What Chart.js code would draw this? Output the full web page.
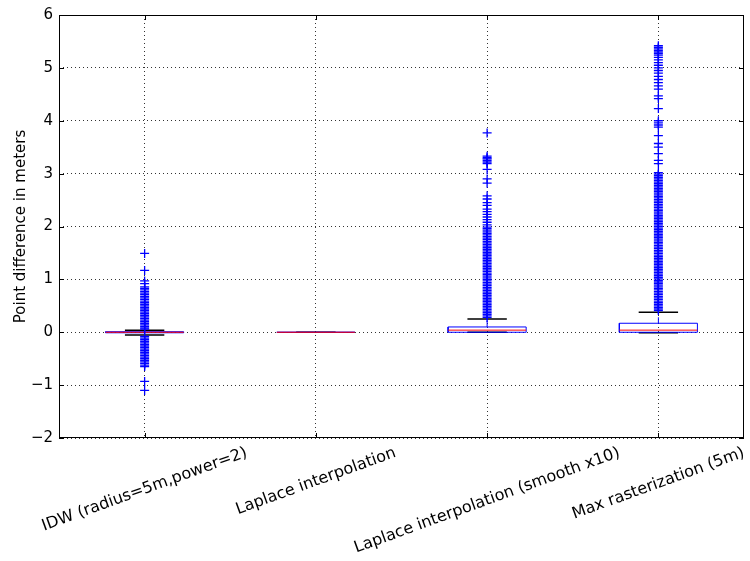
<!DOCTYPE html>
<html>
<head>
<meta charset="utf-8">
<script src="https://cdn.jsdelivr.net/npm/chart.js@4.4.0/dist/chart.umd.min.js"></script>
<style>
  html, body { margin: 0; padding: 0; background: #fff; }
</style>
</head>
<body>
<canvas id="chart" width="750" height="561"></canvas>
<script>
const categories = [
  'IDW (radius=5m,power=2)',
  'Laplace interpolation',
  'Laplace interpolation (smooth x10)',
  'Max rasterization (5m)'
];

// box statistics, one value per category
const q1 = [-0.01, 0, 0, 0];
const medians = [0, 0, 0.04, 0.04];
const q3 = [0.01, 0, 0.1, 0.17];
const whiskerLow = [-0.05, 0, 0, -0.01];
const whiskerHigh = [0.04, 0, 0.25, 0.38];

// fliers
const idwOutliers = [
  1.49, 1.17, 0.97, 0.92, 0.86, 0.83, 0.8, 0.77, 0.74, 0.71, 0.68, 0.65, 0.62,
  0.59, 0.56, 0.53, 0.5, 0.47, 0.44, 0.41, 0.38, 0.35, 0.32, 0.29, 0.26, 0.23,
  0.2, 0.17, 0.14, 0.11, 0.08, 0.06,
  -0.08, -0.11, -0.14, -0.17, -0.2, -0.23, -0.26, -0.29, -0.32, -0.35, -0.38,
  -0.41, -0.44, -0.47, -0.5, -0.53, -0.56, -0.59, -0.62, -0.65, -0.93, -1.1
];
const laplaceOutliers = [];
const smoothOutliers = [
  3.77, 3.33, 3.3, 3.28, 3.25, 3.22, 3.19, 3.08, 2.9, 2.82, 2.58, 2.52, 2.45,
  2.4, 2.33, 2.28, 2.23, 2.18, 2.13, 2.08, 2.03, 1.99, 1.96, 1.93, 1.9, 1.87,
  1.84, 1.81, 1.78, 1.75, 1.72, 1.69, 1.66, 1.63, 1.6, 1.57, 1.54, 1.51, 1.48,
  1.45, 1.42, 1.39, 1.36, 1.33, 1.3, 1.27, 1.24, 1.21, 1.18, 1.15, 1.12, 1.09,
  1.06, 1.03, 1.0, 0.97, 0.94, 0.91, 0.88, 0.85, 0.82, 0.79, 0.76, 0.73, 0.7,
  0.67, 0.64, 0.61, 0.58, 0.55, 0.52, 0.49, 0.46, 0.43, 0.4, 0.37, 0.34, 0.31,
  0.28
];
const maxOutliers = [
  5.42, 5.39, 5.36, 5.33, 5.3, 5.27, 5.24, 5.2, 5.15, 5.1, 5.05, 5.0, 4.95,
  4.9, 4.84, 4.78, 4.72, 4.66, 4.6, 4.47, 4.42, 4.23, 4.0, 3.96, 3.92, 3.88,
  3.72, 3.57, 3.5, 3.38, 3.25, 3.19, 3.02, 2.99, 2.96, 2.93, 2.9, 2.87, 2.84,
  2.81, 2.78, 2.75, 2.72, 2.69, 2.66, 2.63, 2.6, 2.57, 2.54, 2.51, 2.48, 2.45,
  2.42, 2.39, 2.36, 2.33, 2.3, 2.27, 2.24, 2.21, 2.18, 2.15, 2.12, 2.09, 2.06,
  2.03, 2.0, 1.97, 1.94, 1.91, 1.88, 1.85, 1.82, 1.79, 1.76, 1.73, 1.7, 1.67,
  1.64, 1.61, 1.58, 1.55, 1.52, 1.49, 1.46, 1.43, 1.4, 1.37, 1.34, 1.31, 1.28,
  1.25, 1.22, 1.19, 1.16, 1.13, 1.1, 1.07, 1.04, 1.01, 0.98, 0.95, 0.92, 0.89,
  0.86, 0.83, 0.8, 0.77, 0.74, 0.71, 0.68, 0.65, 0.62, 0.59, 0.56, 0.53, 0.5,
  0.47, 0.44, 0.41
];
const outliers = [idwOutliers, laplaceOutliers, smoothOutliers, maxOutliers];

const yTicks = [-2, -1, 0, 1, 2, 3, 4, 5, 6];

const FONT = 'DejaVu Sans';
const BOX_HALF = 0.228;
const CAP_HALF = 0.115;
const GAP = { x: 0, y: null };

// build polylines for the boxes, whiskers, caps and medians
const boxData = [], whiskerData = [], capData = [], medianData = [];
categories.forEach((c, i) => {
  const x = i + 1;
  boxData.push(
    { x: x - BOX_HALF, y: q1[i] }, { x: x + BOX_HALF, y: q1[i] },
    { x: x + BOX_HALF, y: q3[i] }, { x: x - BOX_HALF, y: q3[i] },
    { x: x - BOX_HALF, y: q1[i] }, GAP
  );
  whiskerData.push(
    { x: x, y: q3[i] }, { x: x, y: whiskerHigh[i] }, GAP,
    { x: x, y: q1[i] }, { x: x, y: whiskerLow[i] }, GAP
  );
  capData.push(
    { x: x - CAP_HALF, y: whiskerHigh[i] }, { x: x + CAP_HALF, y: whiskerHigh[i] }, GAP,
    { x: x - CAP_HALF, y: whiskerLow[i] }, { x: x + CAP_HALF, y: whiskerLow[i] }, GAP
  );
  medianData.push(
    { x: x - BOX_HALF, y: medians[i] }, { x: x + BOX_HALF, y: medians[i] }, GAP
  );
});

const flierData = [];
outliers.forEach((list, i) => {
  list.forEach(v => flierData.push({ x: i + 1, y: v }));
});

function lineSet(data, color, order, width, dash) {
  return {
    type: 'line',
    data: data,
    borderColor: color,
    borderWidth: width,
    borderDash: dash || [],
    pointRadius: 0,
    fill: false,
    tension: 0,
    spanGaps: false,
    order: order
  };
}

// frame, inward ticks and rotated category labels like matplotlib
const mplDecor = {
  id: 'mplDecor',
  afterDraw(chart) {
    const { ctx, chartArea: a, scales } = chart;
    const xs = scales.x, ys = scales.y;
    ctx.save();
    ctx.strokeStyle = '#000';
    ctx.lineWidth = 1;
    ctx.strokeRect(a.left + 0.5, a.top + 0.5, a.right - a.left - 1, a.bottom - a.top - 1);

    ctx.beginPath();
    yTicks.forEach(v => {
      const py = Math.round(ys.getPixelForValue(v)) + 0.5;
      ctx.moveTo(a.left, py); ctx.lineTo(a.left + 5, py);
      ctx.moveTo(a.right, py); ctx.lineTo(a.right - 5, py);
    });
    categories.forEach((c, i) => {
      const px = Math.round(xs.getPixelForValue(i + 1)) + 0.5;
      ctx.moveTo(px, a.bottom); ctx.lineTo(px, a.bottom - 5);
      ctx.moveTo(px, a.top); ctx.lineTo(px, a.top + 5);
    });
    ctx.stroke();

    ctx.font = '16px "' + FONT + '"';
    ctx.fillStyle = '#000';
    ctx.textAlign = 'center';
    ctx.textBaseline = 'middle';
    const ang = 20 * Math.PI / 180;
    categories.forEach((c, i) => {
      const px = xs.getPixelForValue(i + 1);
      const w = ctx.measureText(c).width;
      const bh = w * Math.sin(ang) + 18 * Math.cos(ang);
      ctx.save();
      ctx.translate(px, a.bottom + 6 + bh / 2);
      ctx.rotate(-ang);
      ctx.fillText(c, 0, 0);
      ctx.restore();
    });
    ctx.restore();
  }
};

const gridStyle = { color: 'rgba(0,0,0,0.8)', lineWidth: 1, drawTicks: false };

new Chart(document.getElementById('chart'), {
  type: 'scatter',
  data: {
    datasets: [
      {
        type: 'scatter',
        data: flierData,
        pointStyle: 'cross',
        pointRadius: 4.5,
        pointBorderWidth: 1.3,
        borderColor: '#0000ff',
        backgroundColor: '#0000ff',
        order: 0
      },
      lineSet(medianData, '#ff0000', 1, 1),
      lineSet(boxData, '#0000ff', 2, 1),
      lineSet(capData, '#000000', 3, 1.5),
      lineSet(whiskerData, '#0000ff', 4, 1, [6, 4])
    ]
  },
  plugins: [mplDecor],
  options: {
    responsive: false,
    animation: false,
    devicePixelRatio: 1,
    layout: { padding: { top: 14, right: 6, bottom: 123, left: 0 } },
    plugins: { legend: { display: false }, tooltip: { enabled: false } },
    scales: {
      x: {
        type: 'linear',
        min: 0.5,
        max: 4.5,
        afterBuildTicks: s => { s.ticks = categories.map((c, i) => ({ value: i + 1 })); },
        afterFit: s => { s.height = 0; },
        ticks: { display: false },
        grid: gridStyle,
        border: { display: false, dash: [1, 3] }
      },
      y: {
        min: -2,
        max: 6,
        afterBuildTicks: s => { s.ticks = yTicks.map(v => ({ value: v })); },
        afterFit: s => { s.width = 59; },
        ticks: {
          padding: 6,
          color: '#000',
          font: { family: FONT, size: 15 },
          callback: v => v < 0 ? '\u2212' + Math.abs(v) : String(v)
        },
        grid: gridStyle,
        border: { display: false, dash: [1, 3] },
        title: {
          display: true,
          text: 'Point difference in meters',
          color: '#000',
          font: { family: FONT, size: 15 },
          padding: { top: 12, bottom: 0 }
        }
      }
    }
  }
});
</script>
</body>
</html>
